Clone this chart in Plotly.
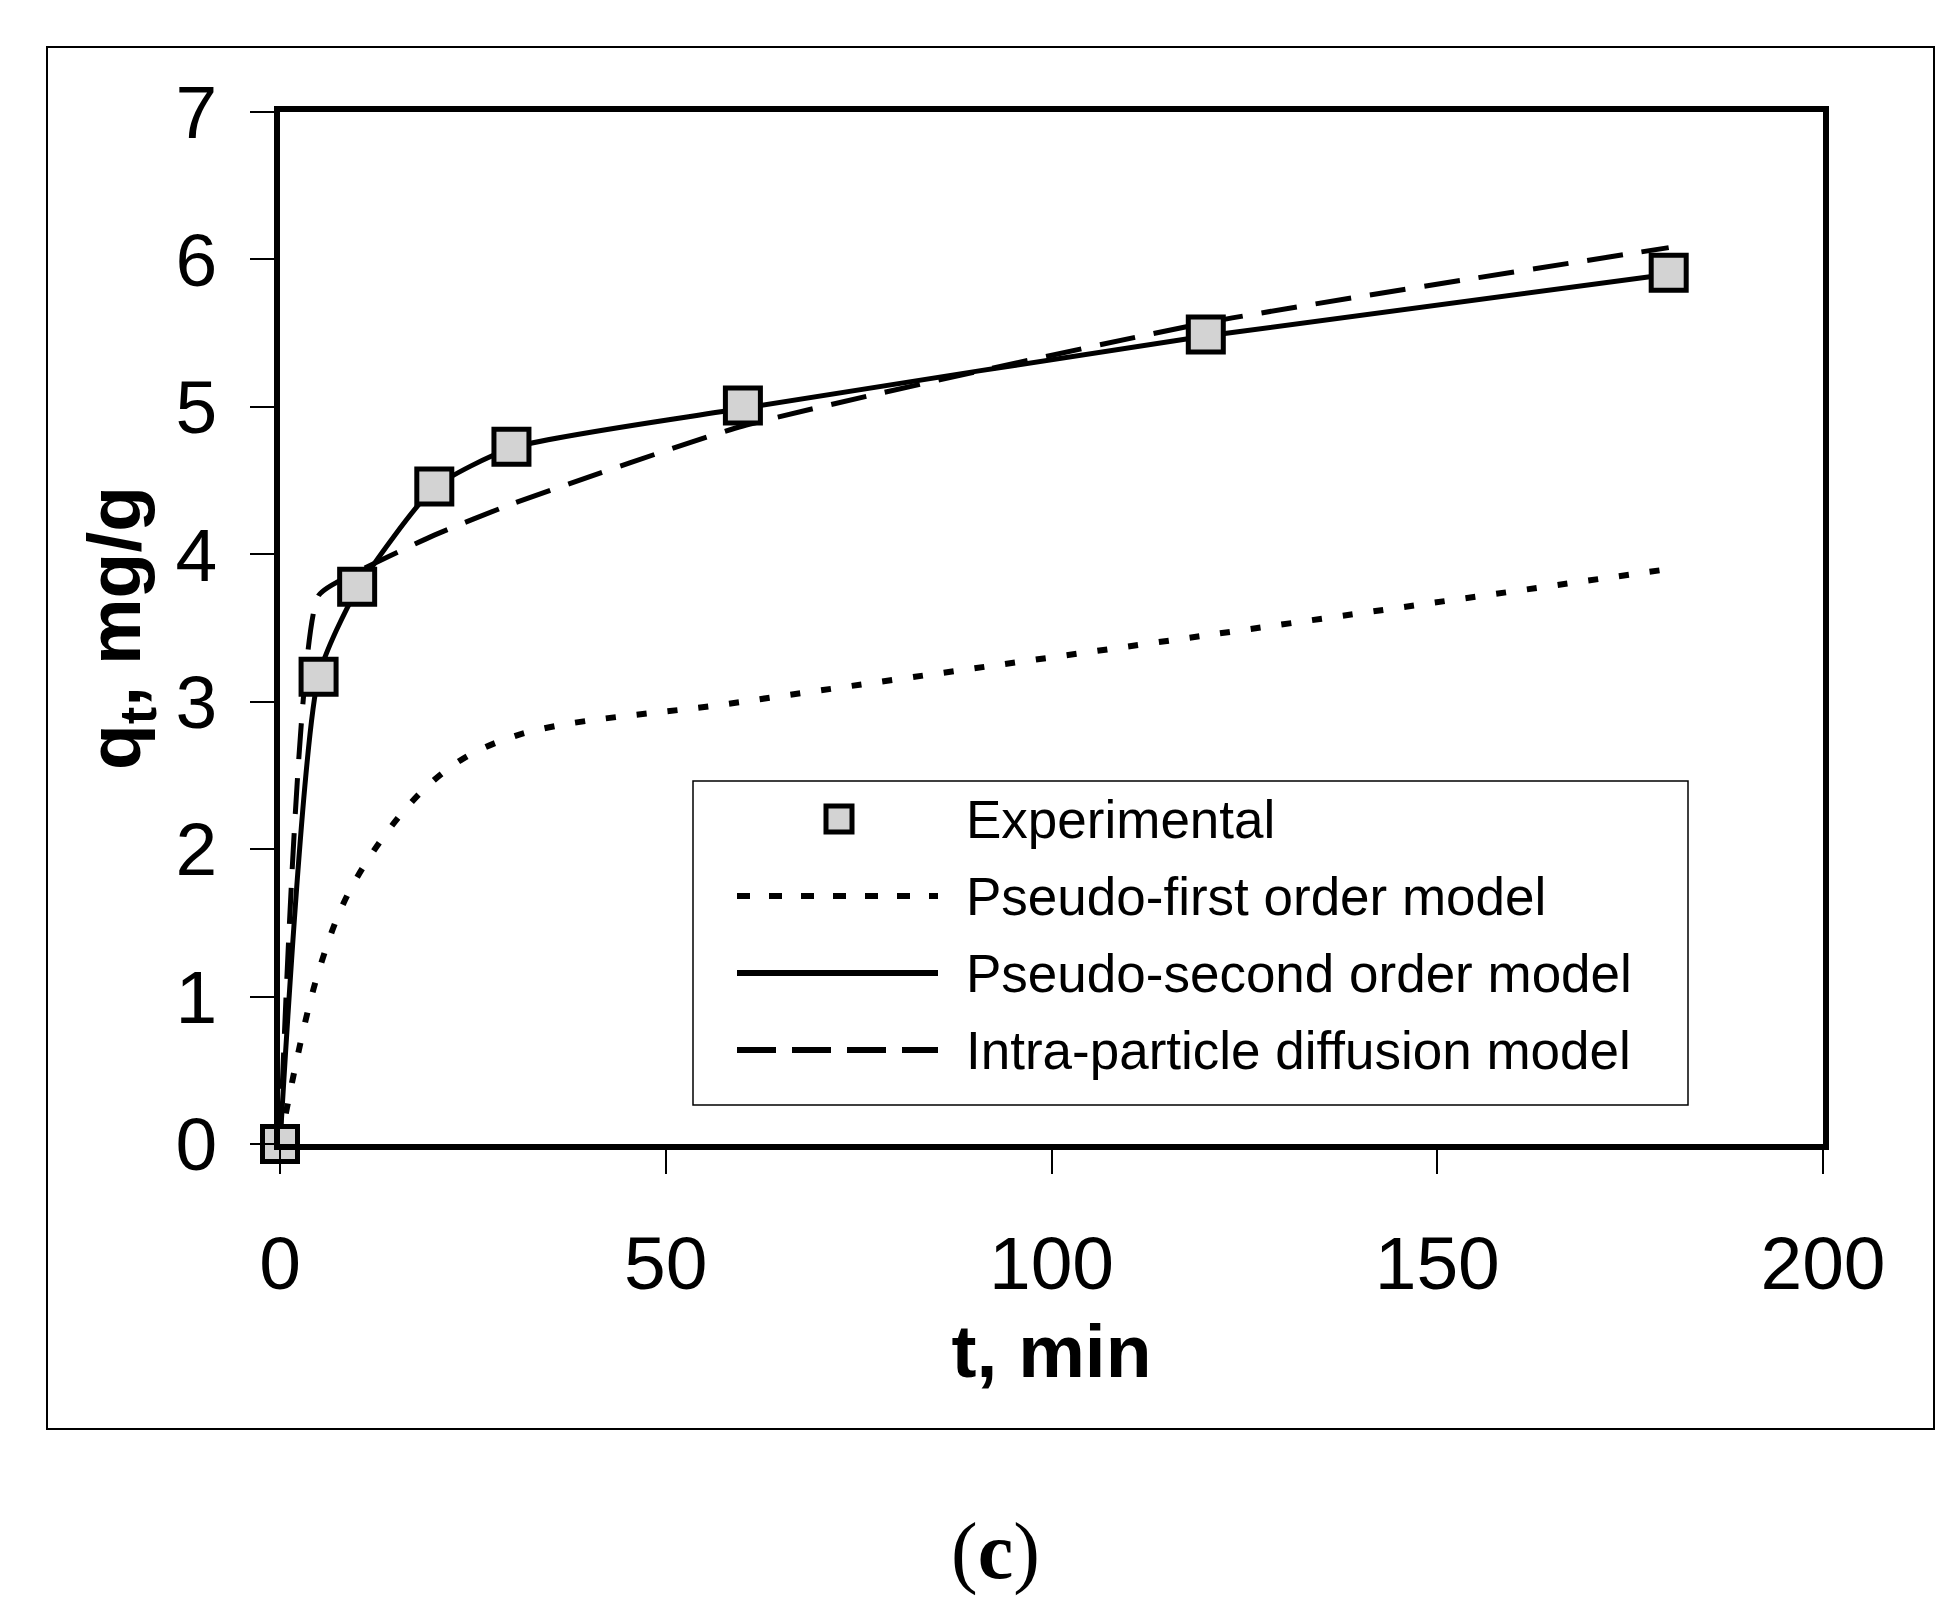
"""Adsorption kinetics, panel (c): experimental q_t with three kinetic model fits."""

import plotly.graph_objects as go

# ---- data ----
t_exp = [0, 5, 10, 20, 30, 60, 120, 180]
q_exp = [0.0, 3.17, 3.78, 4.46, 4.73, 5.01, 5.49, 5.91]

t_model = [0, 5, 10, 20, 30, 60, 120, 180]
q_pfo = [0.0, 1.17, 1.81, 2.47, 2.76, 3.00, 3.45, 3.90]   # pseudo-first order
q_pso = [0.0, 3.17, 3.76, 4.45, 4.72, 4.99, 5.48, 5.90]   # pseudo-second order
q_ipd = [0.0, 3.72, 3.88, 4.13, 4.34, 4.87, 5.57, 6.08]   # intra-particle diffusion

x_ticks = [0, 50, 100, 150, 200]
y_ticks = [0, 1, 2, 3, 4, 5, 6, 7]

legend_labels = [
    "Experimental",
    "Pseudo-first order model",
    "Pseudo-second order model",
    "Intra-particle diffusion model",
]

# ---- layout geometry (pixels) ----
W, H = 1953, 1600
ML, MR, MT, MB = 272, 138, 104, 464
PW, PH = W - ML - MR, H - MT - MB

SANS = "Liberation Sans, Arial, sans-serif"
SERIF = "Liberation Serif, Times New Roman, serif"


def px(x):
    return (x - ML) / PW


def py(y):
    return 1 - (y - MT) / PH


line_kw = dict(color="black", width=5, shape="spline")

fig = go.Figure()
fig.add_trace(go.Scatter(x=t_model, y=q_pfo, mode="lines",
                         line=dict(line_kw, width=6, dash="10px,21px"),
                         name=legend_labels[1]))
fig.add_trace(go.Scatter(x=t_model, y=q_pso, mode="lines",
                         line=dict(line_kw, smoothing=0.6), name=legend_labels[2]))
fig.add_trace(go.Scatter(x=t_model, y=q_ipd, mode="lines",
                         line=dict(line_kw, smoothing=0.5, dash="36px,19px"),
                         name=legend_labels[3]))
fig.add_trace(go.Scatter(
    x=t_exp, y=q_exp, mode="markers", name=legend_labels[0],
    marker=dict(symbol="square", size=35, color="#d3d3d3",
                line=dict(color="black", width=5)),
    cliponaxis=False,
))

axis_common = dict(
    showline=True, linecolor="black", linewidth=5.5, mirror=True,
    showgrid=False, zeroline=False,
    ticks="outside", ticklen=24, tickwidth=1.5, tickcolor="black",
    tickfont=dict(family=SANS, size=75, color="black"),
)
fig.update_xaxes(range=[0, 200], tickvals=x_ticks, ticklabelstandoff=25,
                 title=dict(text="<b>t, min</b>", standoff=23,
                            font=dict(family=SANS, size=75, color="black")),
                 **axis_common)
fig.update_yaxes(range=[0, 7], tickvals=y_ticks, ticklabelstandoff=18,
                 title=dict(text="<b>q<sub>t</sub>, mg/g</b>", standoff=12,
                            font=dict(family=SANS, size=75, color="black")),
                 **axis_common)

# ---- hand-built legend box (Excel-style long line samples) ----
shapes = [
    # outer chart frame
    dict(type="rect", xref="paper", yref="paper",
         x0=px(39), x1=px(1926), y0=py(39), y1=py(1421),
         line=dict(color="black", width=2), layer="below"),
    # legend frame
    dict(type="rect", xref="paper", yref="paper",
         x0=px(685), x1=px(1680), y0=py(773), y1=py(1097),
         line=dict(color="black", width=1.5), fillcolor="white"),
]
rows = [811, 888, 965, 1042]
sample_x0, sample_x1, text_x = 729, 930, 956
shapes.append(dict(type="rect", xref="paper", yref="paper",
                   x0=px(818), x1=px(844), y0=py(rows[0] - 13), y1=py(rows[0] + 13),
                   line=dict(color="black", width=5), fillcolor="#d3d3d3"))
for row, dash in zip(rows[1:], ["13px,19px", "solid", "39px,16px"]):
    shapes.append(dict(type="line", xref="paper", yref="paper",
                       x0=px(sample_x0), x1=px(sample_x1), y0=py(row), y1=py(row),
                       line=dict(color="black", width=6, dash=dash)))

annotations = [
    dict(text=label, xref="paper", yref="paper", x=px(text_x), y=py(row),
         xanchor="left", yanchor="middle", showarrow=False,
         font=dict(family=SANS, size=53, color="black"))
    for label, row in zip(legend_labels, rows)
]
annotations.append(dict(text="(<b>c</b>)", xref="paper", yref="paper",
                        x=px(987), y=py(1543), xanchor="center", yanchor="middle",
                        showarrow=False, font=dict(family=SERIF, size=80, color="black")))

fig.update_layout(
    width=W, height=H,
    margin=dict(l=ML, r=MR, t=MT, b=MB, autoexpand=False),
    paper_bgcolor="white", plot_bgcolor="white",
    showlegend=False,
    shapes=shapes, annotations=annotations,
)

fig.write_html("out.html")
